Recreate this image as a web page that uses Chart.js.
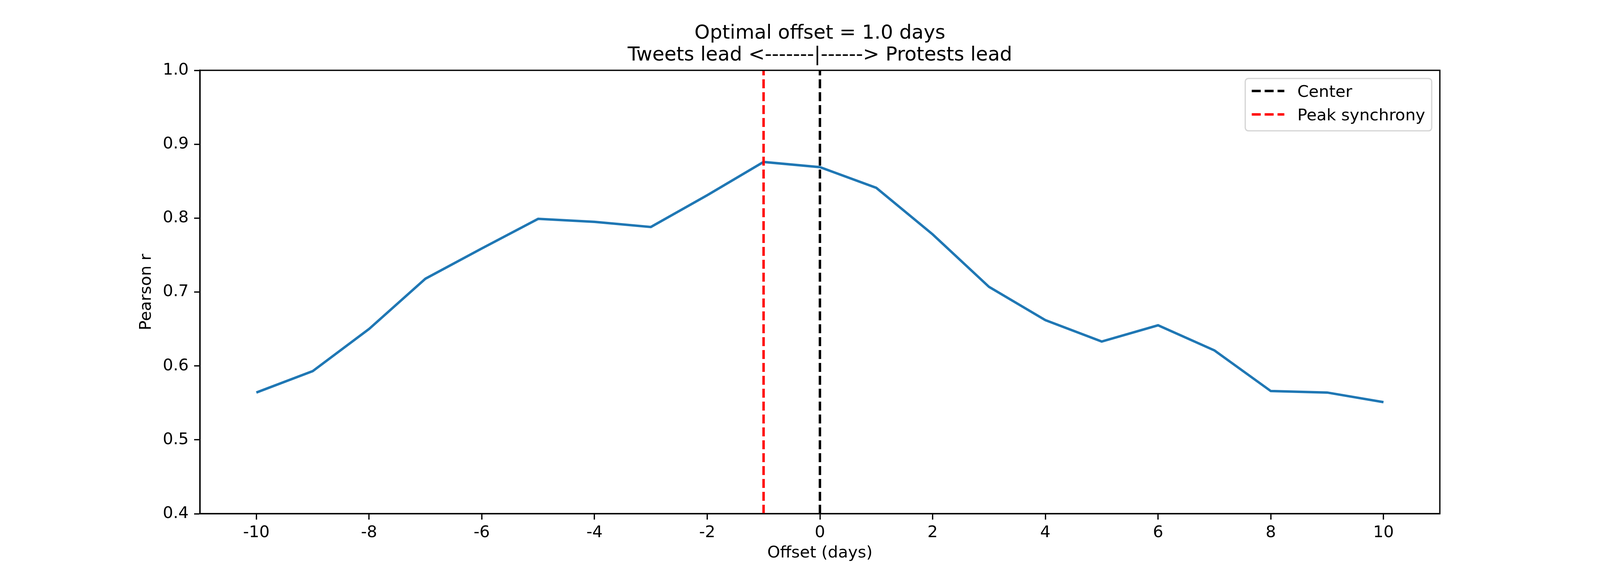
<!DOCTYPE html>
<html>
<head>
<meta charset="utf-8">
<script src="https://cdn.jsdelivr.net/npm/chart.js@4.4.1/dist/chart.umd.min.js"></script>
<style>
  html, body { margin: 0; padding: 0; background: #fff; overflow: hidden; }
  canvas { display: block; }
</style>
</head>
<body>
<canvas id="lagChart"></canvas>
<script>
// offsets (days) and the Pearson r at each offset
const offsets = [-10, -9, -8, -7, -6, -5, -4, -3, -2, -1, 0, 1, 2, 3, 4, 5, 6, 7, 8, 9, 10];
const pearsonR = [0.564, 0.593, 0.650, 0.718, 0.759, 0.799, 0.795, 0.788, 0.831, 0.876,
                  0.869, 0.841, 0.778, 0.707, 0.662, 0.633, 0.655, 0.621, 0.566, 0.564, 0.551];

const centerOffset = 0;
const peakOffset = -1;
const yRange = [0.4, 1.0];

const xTicks = [-10, -8, -6, -4, -2, 0, 2, 4, 6, 8, 10];
const yTicks = [0.4, 0.5, 0.6, 0.7, 0.8, 0.9, 1.0];

const titleLines = ["Optimal offset = 1.0 days", "Tweets lead <-------|------> Protests lead"];
const legendLabels = ["Center", "Peak synchrony"];

// the window may be narrower than asked for, so lay out like matplotlib's
// subplot fractions on whatever size we actually get
const W = window.innerWidth || 6000;
const H = window.innerHeight || 1500;
const k = H / 1500;

const FONT = "DejaVu Sans";
const FS = 41.7 * k;       // 10pt at 300 dpi
const LW = 6.25 * k;       // 1.5pt
const SPINE = 3.3 * k;     // 0.8pt
const DASH = [23 * k, 10 * k];

const AX_LEFT = Math.round(0.125 * W);
const AX_RIGHT = Math.round(0.9 * W);
const AX_TOP = Math.round(180 * k);
const AX_BOTTOM = Math.round(1315 * k);

const canvas = document.getElementById("lagChart");
canvas.width = W;
canvas.height = H;
canvas.style.width = W + "px";
canvas.style.height = H + "px";

// title centred over the axes, as matplotlib does
const axesTitle = {
  id: "axesTitle",
  afterDraw(chart) {
    const { ctx, chartArea } = chart;
    const cx = (chartArea.left + chartArea.right) / 2;
    ctx.save();
    ctx.fillStyle = "#000";
    ctx.font = `${50 * k}px "${FONT}"`;
    ctx.textAlign = "center";
    ctx.textBaseline = "alphabetic";
    ctx.fillText(titleLines[0], cx, 99 * k);
    ctx.fillText(titleLines[1], cx, 155 * k);
    ctx.restore();
  }
};

// full box around the plot area
const frame = {
  id: "frame",
  afterDraw(chart) {
    const { ctx, chartArea: a } = chart;
    ctx.save();
    ctx.strokeStyle = "#000";
    ctx.lineWidth = SPINE;
    ctx.strokeRect(a.left, a.top, a.right - a.left, a.bottom - a.top);
    ctx.restore();
  }
};

// upper-right legend box with dashed handles
const boxLegend = {
  id: "boxLegend",
  afterDraw(chart) {
    const { ctx, chartArea: a } = chart;
    const items = chart.data.datasets.filter(d => legendLabels.includes(d.label));
    ctx.save();
    ctx.font = `${FS}px "${FONT}"`;
    const textW = Math.max(...items.map(d => ctx.measureText(d.label).width));
    const pad = 0.4 * FS, handleLen = 2 * FS, gap = 0.8 * FS, rowH = 60 * k;
    const w = pad + handleLen + gap + textW + pad;
    const h = 134 * k;
    const right = a.right - 0.5 * FS;
    const top = a.top + 0.5 * FS;
    const left = right - w;

    ctx.beginPath();
    ctx.roundRect(left, top, w, h, 8 * k);
    ctx.fillStyle = "rgba(255,255,255,0.8)";
    ctx.fill();
    ctx.lineWidth = SPINE;
    ctx.strokeStyle = "rgba(204,204,204,0.8)";
    ctx.stroke();

    items.forEach((d, i) => {
      const base = top + 47 * k + i * rowH;
      const hy = base - 15 * k;
      ctx.beginPath();
      ctx.setLineDash(d.borderDash || []);
      ctx.lineWidth = d.borderWidth;
      ctx.strokeStyle = d.borderColor;
      ctx.moveTo(left + pad, hy);
      ctx.lineTo(left + pad + handleLen, hy);
      ctx.stroke();
      ctx.setLineDash([]);
      ctx.fillStyle = "#000";
      ctx.textAlign = "left";
      ctx.textBaseline = "alphabetic";
      ctx.fillText(d.label, left + pad + handleLen + gap, base);
    });
    ctx.restore();
  }
};

new Chart(canvas.getContext("2d"), {
  type: "line",
  data: {
    datasets: [
      {
        label: "Pearson r",
        data: offsets.map((x, i) => ({ x, y: pearsonR[i] })),
        borderColor: "#1f77b4",
        borderWidth: LW,
        pointRadius: 0,
        tension: 0,
        order: 2
      },
      {
        label: legendLabels[0],
        data: yRange.map(y => ({ x: centerOffset, y })),
        borderColor: "#000000",
        borderWidth: LW,
        borderDash: DASH,
        pointRadius: 0,
        order: 1
      },
      {
        label: legendLabels[1],
        data: yRange.map(y => ({ x: peakOffset, y })),
        borderColor: "#ff0000",
        borderWidth: LW,
        borderDash: DASH,
        pointRadius: 0,
        order: 0
      }
    ]
  },
  options: {
    responsive: false,
    animation: false,
    devicePixelRatio: 1,
    layout: { padding: { top: AX_TOP, right: W - AX_RIGHT, left: 0, bottom: 0 } },
    plugins: {
      legend: { display: false },
      title: { display: false },
      tooltip: { enabled: false }
    },
    scales: {
      x: {
        type: "linear",
        min: -11,
        max: 11,
        afterBuildTicks: s => { s.ticks = xTicks.map(v => ({ value: v })); },
        afterFit: s => { s.height = H - AX_BOTTOM; },
        ticks: {
          color: "#000",
          font: { family: FONT, size: FS },
          padding: 9 * k,
          maxRotation: 0,
          autoSkip: false,
          callback: v => String(v)
        },
        grid: { display: true, drawOnChartArea: false, drawTicks: true, tickLength: 15 * k, tickWidth: SPINE, tickColor: "#000" },
        border: { display: true, color: "#000", width: SPINE },
        title: {
          display: true,
          text: "Offset (days)",
          color: "#000",
          font: { family: FONT, size: FS, lineHeight: 1.2 },
          padding: { top: 0, bottom: 59 * k }
        }
      },
      y: {
        min: yRange[0],
        max: yRange[1],
        afterBuildTicks: s => { s.ticks = yTicks.map(v => ({ value: v })); },
        afterFit: s => { s.width = AX_LEFT; },
        ticks: {
          color: "#000",
          font: { family: FONT, size: FS },
          padding: 14 * k,
          callback: v => v.toFixed(1)
        },
        grid: { display: true, drawOnChartArea: false, drawTicks: true, tickLength: 15 * k, tickWidth: SPINE, tickColor: "#000" },
        border: { display: true, color: "#000", width: SPINE },
        title: {
          display: true,
          text: "Pearson r",
          color: "#000",
          font: { family: FONT, size: FS, lineHeight: 1.2 },
          // keep the label the same distance from the axis as in the original
          padding: { top: AX_LEFT - 137 * k - 0.6 * FS, bottom: 0 }
        }
      }
    }
  },
  plugins: [frame, boxLegend, axesTitle]
});
</script>
</body>
</html>
